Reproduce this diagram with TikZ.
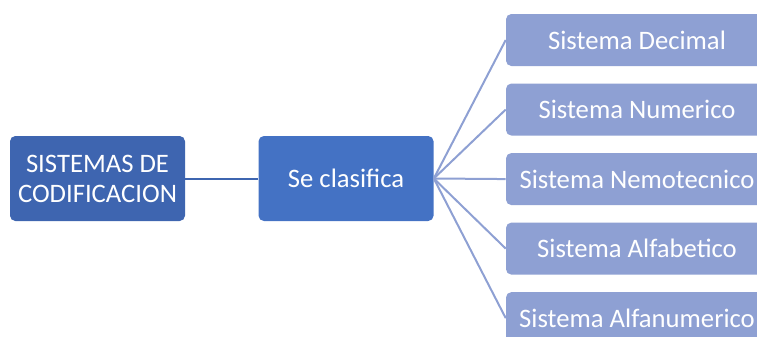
\documentclass[tikz,border=0pt]{standalone}
\usepackage{fontspec}
\setmainfont{Carlito}
\usepackage{xcolor}
\usetikzlibrary{positioning}
\definecolor{darkblue}{HTML}{3E65B0}
\definecolor{midblue}{HTML}{4472C4}
\definecolor{lightblue}{HTML}{8EA0D3}
\tikzstyle{root} = [rectangle, rounded corners=4pt, minimum width=131.25pt, minimum height=63.75pt, inner sep=0pt, align=center, fill=darkblue, text=white, font=\fontsize{20}{22.5}\selectfont]
\tikzstyle{branch} = [rectangle, rounded corners=4pt, minimum width=131.25pt, minimum height=63.75pt, inner sep=0pt, text centered, fill=midblue, text=white, font=\fontsize{20}{22.5}\selectfont]
\tikzstyle{leaf} = [rectangle, rounded corners=4pt, minimum width=196.5pt, minimum height=39pt, inner sep=0pt, text centered, fill=lightblue, text=white, font=\fontsize{20}{22.5}\selectfont]

\begin{document}
\begin{tikzpicture}[x=0.75pt, y=-0.75pt]
		\clip (0,0) rectangle (757,336);
		\node (Sistemas)[root] at (97.5,178.5){SISTEMAS DE\\CODIFICACION};
		\node (Clasifica)[branch, right = 54.75pt of Sistemas]{Se clasifica};
		\node (Decimal)[leaf] at (637,40){Sistema Decimal};
		\node (Numerico)[leaf, below = 12.75pt of Decimal]{Sistema Numerico};
		\node (Nemotecnico)[leaf, below = 12.75pt of Numerico]{Sistema Nemotecnico};
		\node (Alfabetico)[leaf, below = 12.75pt of Nemotecnico]{Sistema Alfabetico};
		\node (Alfanumerico)[leaf, below = 12.75pt of Alfabetico]{Sistema Alfanumerico};
		\draw [darkblue, line width=1.5pt] (Sistemas) -- (Clasifica);
		\foreach \leafname in {Decimal, Numerico, Nemotecnico, Alfabetico, Alfanumerico}
			\draw [lightblue, line width=1.5pt] (Clasifica.east) -- (\leafname.west);
	\end{tikzpicture}
\end{document}
